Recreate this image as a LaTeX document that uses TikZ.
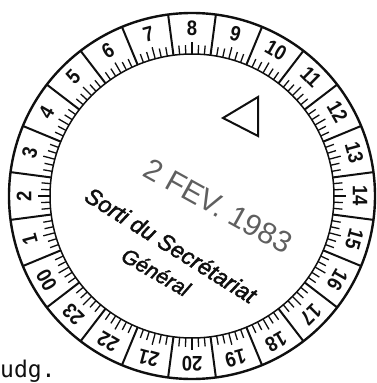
\documentclass[tikz,border=0pt]{standalone}
\usepackage{fontspec}
\setmainfont{Liberation Sans}
\newfontfamily\dialfont[FakeStretch=0.88]{Liberation Sans}
\newfontfamily\stampfont[FakeBold=2]{Liberation Sans}
\newfontfamily\typefont{DejaVu Sans Mono}
\usetikzlibrary{calc}
\definecolor{cInk}{RGB}{15,15,15}
\definecolor{cFade}{RGB}{95,95,95}
\tikzset{
  ringline/.style={draw=cInk, line width=2.4pt},
  innerline/.style={draw=cInk, line width=1.5pt},
  divline/.style={draw=cInk, line width=2pt},
  tickline/.style={draw=cInk, line width=1.3pt},
  flagline/.style={draw=cInk, line width=2pt, line join=miter},
  hournode/.style={inner sep=0pt, text=cInk,
                   font=\dialfont\bfseries\fontsize{21}{21}\selectfont},
  stampnode/.style={inner sep=0pt, text=cInk,
                    font=\stampfont\itshape\fontsize{23}{23}\selectfont},
  datenode/.style={inner sep=0pt, text=cFade,
                   font=\fontsize{30}{30}\selectfont},
  marknode/.style={inner sep=0pt, text=cInk,
                   font=\typefont\fontsize{23}{23}\selectfont}
}

\begin{document}
\begin{tikzpicture}[x=1pt, y=1pt]
  \useasboundingbox (-192,-187) rectangle (184,196);
  \coordinate (c) at (0,0);
  \draw[ringline] (c) circle[radius=183];
  \draw[innerline] (c) circle[radius=142];

  \foreach \h [count=\i from 0] in {8,9,10,11,12,13,14,15,16,17,18,19,20,21,22,23,00,1,2,3,4,5,6,7} {
    \pgfmathsetmacro{\a}{90-15*\i}
    \draw[divline] (\a+7.5:142) -- (\a+7.5:183);
    \foreach \m in {-2,-1,1,2}
      \draw[tickline] (\a+2.5*\m:142) -- (\a+2.5*\m:151);
    \draw[tickline] (\a:142) -- (\a:154);
    \node[hournode, rotate=\a-90] (h\i) at (\a:168) {\h};
  }

  \draw[flagline] (66,99) -- (31,78) -- (66,60) -- cycle;

  \node[datenode, rotate=-29] (date) at (26,-10) {2 FEV. 1983};
  \node[stampnode, rotate=-32] (sortie) at (-21,-49) {Sorti du Secrétariat};
  \node[stampnode, rotate=-30, font=\stampfont\itshape\fontsize{21}{21}\selectfont]
      (general) at (-36,-76) {Général};
  \node[marknode, anchor=base west] (budg) at (-192,-181) {udg.};
\end{tikzpicture}
\end{document}
